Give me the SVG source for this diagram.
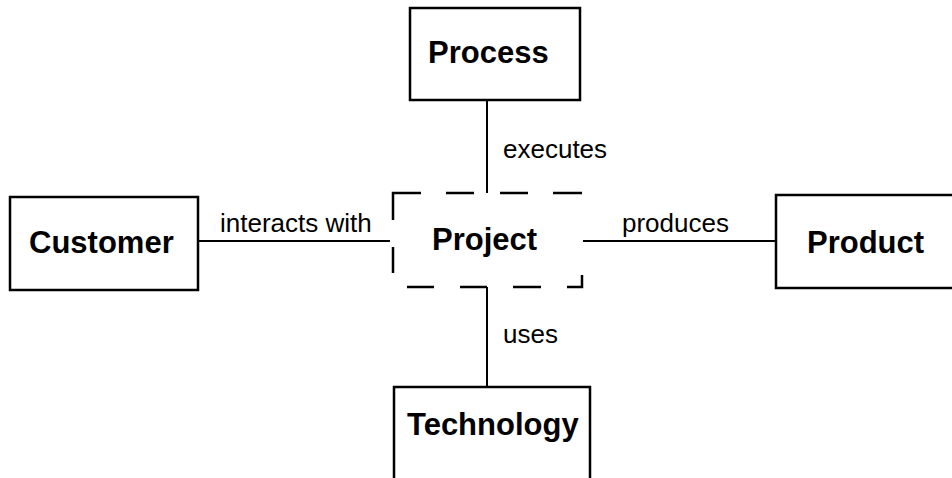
<svg xmlns="http://www.w3.org/2000/svg" width="952" height="478" viewBox="0 0 952 478">
  <style>
    .box { fill: #fff; stroke: #000; stroke-width: 2.5; }
    .dash { fill: none; stroke: #000; stroke-width: 2.5; }
    .conn { fill: none; stroke: #000; stroke-width: 2; }
    .name { font-family: "Liberation Sans", Arial, sans-serif; font-weight: bold; font-size: 31px; fill: #000; }
    .lbl { font-family: "Liberation Sans", Arial, sans-serif; font-size: 26px; fill: #000; }
  </style>
  <rect width="952" height="478" fill="#fff"/>

  <g id="connectors">
    <line class="conn" x1="487" y1="100" x2="487" y2="193"/>
    <line class="conn" x1="198" y1="241" x2="390" y2="241"/>
    <line class="conn" x1="583" y1="241" x2="776" y2="241"/>
    <line class="conn" x1="487" y1="287" x2="487" y2="387"/>
    <text class="lbl" x="503" y="158">executes</text>
    <text class="lbl" x="220" y="232">interacts with</text>
    <text class="lbl" x="622" y="232">produces</text>
    <text class="lbl" x="503" y="343">uses</text>
  </g>

  <g id="process">
    <rect class="box" x="410" y="8" width="170" height="92"/>
    <text class="name" x="428" y="63">Process</text>
  </g>

  <g id="customer">
    <rect class="box" x="10" y="197" width="188" height="93"/>
    <text class="name" x="29" y="253">Customer</text>
  </g>

  <g id="product">
    <rect class="box" x="776" y="195" width="190" height="93"/>
    <text class="name" x="807" y="253">Product</text>
  </g>

  <g id="technology">
    <rect class="box" x="394" y="387" width="196" height="100"/>
    <text class="name" x="407" y="435">Technology</text>
  </g>

  <g id="project">
    <path class="dash" d="M393 220V193H421 M446 193H474 M500 193H528 M553 193H582 M393 247V273 M407 287H434 M460 287H487 M513 287H541 M567 287H582V275"/>
    <text class="name" x="432" y="250">Project</text>
  </g>
</svg>
